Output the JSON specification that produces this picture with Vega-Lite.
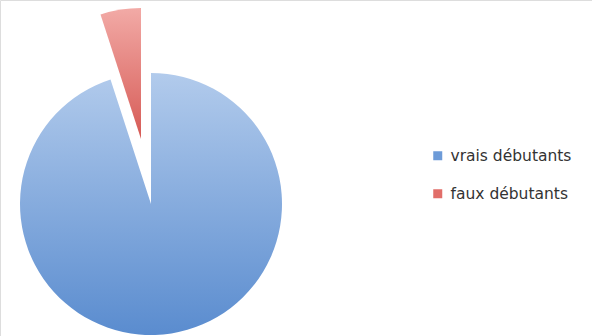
{
  "$schema": "https://vega.github.io/schema/vega-lite/v6.json",
  "width": 592,
  "height": 336,
  "autosize": {"type": "fit", "contains": "padding"},
  "padding": 0,
  "background": "white",
  "data": {"values": [
    {"categorie": "vrais débutants", "valeur": 95},
    {"categorie": "faux débutants", "valeur": 5}
  ]},
  "layer": [
    {
      "mark": {"type": "arc", "radius": 0},
      "encoding": {
        "theta": {"field": "valeur", "type": "quantitative", "stack": true},
        "order": {"field": "valeur", "sort": "descending"},
        "x": {"value": 151},
        "y": {"value": 204},
        "color": {
          "field": "categorie",
          "type": "nominal",
          "scale": {"domain": ["vrais débutants", "faux débutants"], "range": ["#6d9bd8", "#e16e69"]},
          "legend": {
            "title": null,
            "orient": "none",
            "legendX": 430,
            "legendY": 148,
            "padding": 0,
            "symbolType": "square",
            "symbolSize": 81,
            "symbolStrokeWidth": 0,
            "labelFont": "DejaVu Sans",
            "labelFontSize": 15.5,
            "labelColor": "#333333",
            "labelOffset": 5,
            "rowPadding": 21
          }
        }
      }
    },
    {
      "mark": {
        "type": "arc",
        "radius": 131,
        "stroke": null,
        "fill": {
          "gradient": "linear", "x1": 0, "y1": 0, "x2": 0, "y2": 1,
          "stops": [{"offset": 0, "color": "#b2cbec"}, {"offset": 1, "color": "#5a8ccf"}]
        }
      },
      "encoding": {
        "theta": {"field": "valeur", "type": "quantitative", "stack": true},
        "order": {"field": "valeur", "sort": "descending"},
        "x": {"value": 151},
        "y": {"value": 204},
        "fillOpacity": {"condition": {"test": "datum.categorie === 'faux débutants'", "value": 0}, "value": 1}
      }
    },
    {
      "mark": {
        "type": "arc",
        "radius": 131,
        "stroke": null,
        "xOffset": -10,
        "yOffset": -65,
        "fill": {
          "gradient": "linear", "x1": 0, "y1": 0, "x2": 0, "y2": 1,
          "stops": [{"offset": 0, "color": "#f2aaa6"}, {"offset": 1, "color": "#d65a55"}]
        }
      },
      "encoding": {
        "theta": {"field": "valeur", "type": "quantitative", "stack": true},
        "order": {"field": "valeur", "sort": "descending"},
        "x": {"value": 151},
        "y": {"value": 204},
        "fillOpacity": {"condition": {"test": "datum.categorie === 'vrais débutants'", "value": 0}, "value": 1}
      }
    }
  ]
}
